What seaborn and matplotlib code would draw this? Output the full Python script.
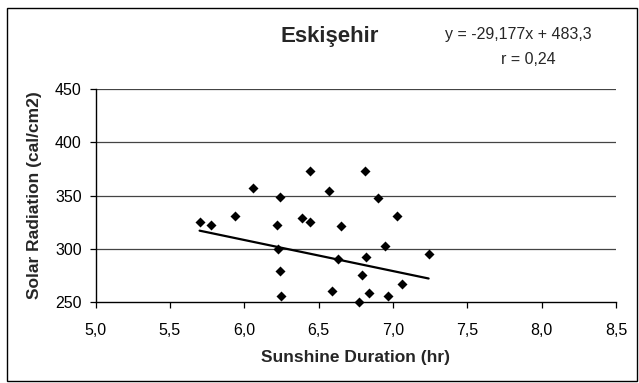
import numpy as np
import pandas as pd
import matplotlib
matplotlib.use("Agg")
import matplotlib.pyplot as plt
import seaborn as sns
from matplotlib.patches import Rectangle

# ---- data ----
sunshine = [5.70, 5.78, 5.94, 6.06, 6.24, 6.22, 6.23, 6.24, 6.25, 6.39, 6.44, 6.44,
            6.57, 6.65, 6.63, 6.59, 6.81, 6.90, 7.03, 6.95, 6.82, 6.79, 7.06, 6.84,
            6.97, 6.77, 7.24]
radiation = [325, 322.5, 331, 357.5, 349, 322.5, 300, 279, 256, 329, 325, 373,
             354, 321, 290, 260, 373, 348, 331, 302.5, 292.5, 275, 267, 258.5,
             256, 250, 295]
slope = -29.177
intercept = 483.3
r_value = "0,24"
title = "Eskişehir"
x_ticks = [5.0, 5.5, 6.0, 6.5, 7.0, 7.5, 8.0, 8.5]
y_ticks = [250, 300, 350, 400, 450]

df = pd.DataFrame({"x": sunshine, "y": radiation})
xs = [min(sunshine), max(sunshine)]
trend = pd.DataFrame({"x": xs, "y": [slope * v + intercept for v in xs]})

sns.set_theme(style="white")
plt.rcParams["font.family"] = ["Liberation Sans", "DejaVu Sans"]

W, H = 639, 383
fig = plt.figure(figsize=(W / 100, H / 100), dpi=100)
fig.patch.set_facecolor("white")

left, right, top, bottom = 95.5, 616, 89, 302
ax = fig.add_axes([left / W, 1 - bottom / H, (right - left) / W, (bottom - top) / H])
ax.set_facecolor("white")

for v in y_ticks[1:]:
    ax.axhline(v, color="#444444", lw=0.9, zorder=1)

sns.lineplot(data=trend, x="x", y="y", ax=ax, color="black", lw=1.6, zorder=3)
sns.scatterplot(data=df, x="x", y="y", ax=ax, marker="D", s=26, color="black",
                linewidth=0, zorder=4, clip_on=False)

ax.set_xlim(5.0, 8.5)
ax.set_ylim(250, 450)
ax.set_xticks(x_ticks)
ax.set_yticks(y_ticks)
ax.set_xticklabels([f"{v:.1f}".replace(".", ",") for v in x_ticks])
ax.set_yticklabels([str(v) for v in y_ticks])
ax.tick_params(axis="both", direction="out", length=4, width=0.9, colors="black",
               labelsize=11.5)
ax.tick_params(axis="x", pad=11)
ax.tick_params(axis="y", pad=6)
ax.xaxis.set_ticks_position("bottom")
ax.yaxis.set_ticks_position("left")
for s in ["top", "right"]:
    ax.spines[s].set_visible(False)
for s in ["left", "bottom"]:
    ax.spines[s].set_color("black")
    ax.spines[s].set_linewidth(1.0)

ax.set_xlabel("")
ax.set_ylabel("")
fig.text((left + right) / 2 / W, 1 - 357.7 / H, "Sunshine Duration (hr)",
         ha="center", va="center", fontsize=12.5, fontweight="bold")
fig.text(35 / W, 1 - 195.5 / H, "Solar Radiation (cal/cm2)", rotation=90,
         ha="center", va="center", fontsize=12.5, fontweight="bold")

fig.text(330 / W, 1 - 36.5 / H, title, ha="center", va="center",
         fontsize=16, fontweight="bold")
eq = f"y = {slope:.3f}x + {intercept:.1f}".replace(".", ",")
fig.text(518.5 / W, 1 - 35 / H, eq, ha="center", va="center", fontsize=11.5)
fig.text(528 / W, 1 - 60 / H, f"r = {r_value}", ha="center", va="center", fontsize=11.5)

fig.patches.append(Rectangle((6.5 / W, 1 - 380.5 / H), (636.5 - 6.5) / W, (380.5 - 7.5) / H,
                             transform=fig.transFigure, fill=False, edgecolor="black",
                             lw=1.0))

fig.savefig("out.png", dpi=100)
